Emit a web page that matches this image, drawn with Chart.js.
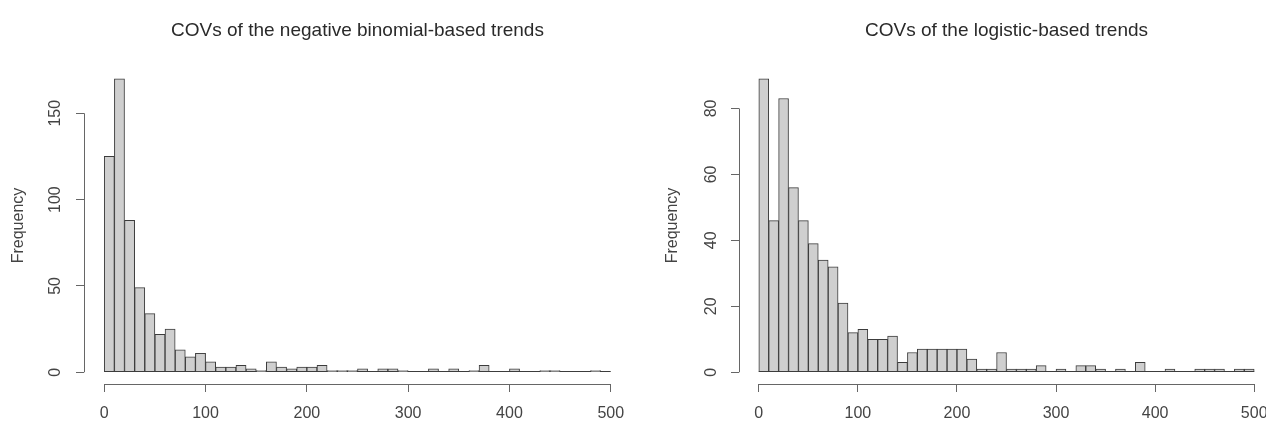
<!DOCTYPE html>
<html>
<head>
<meta charset="utf-8">
<script src="https://cdn.jsdelivr.net/npm/chart.js@4"></script>
<style>
  html, body { margin: 0; padding: 0; background: #fff; overflow: hidden; }
  .panel { position: absolute; top: 0; width: 640px; height: 423px; }
  #leftPanel { left: 0; }
  #rightPanel { left: 640px; }
</style>
</head>
<body>
<div class="panel" id="leftPanel"><canvas id="nbChart" width="640" height="423"></canvas></div>
<div class="panel" id="rightPanel"><canvas id="logChart" width="640" height="423"></canvas></div>
<script>
// histogram bins: width 10, from 0 to 500
const binWidth = 10;
const binStarts = [0, 10, 20, 30, 40, 50, 60, 70, 80, 90,
  100, 110, 120, 130, 140, 150, 160, 170, 180, 190,
  200, 210, 220, 230, 240, 250, 260, 270, 280, 290,
  300, 310, 320, 330, 340, 350, 360, 370, 380, 390,
  400, 410, 420, 430, 440, 450, 460, 470, 480, 490];

// counts
const nbCounts = [125, 170, 88, 49, 34, 22, 25, 13, 9, 11,
  6, 3, 3, 4, 2, 1, 6, 3, 2, 3,
  3, 4, 1, 1, 1, 2, 0, 2, 2, 1,
  0, 0, 2, 0, 2, 0, 1, 4, 0, 0,
  2, 0, 0, 1, 1, 0, 0, 0, 1, 0];
const logCounts = [89, 46, 83, 56, 46, 39, 34, 32, 21, 12,
  13, 10, 10, 11, 3, 6, 7, 7, 7, 7,
  7, 4, 1, 1, 6, 1, 1, 1, 2, 0,
  1, 0, 2, 2, 1, 0, 1, 0, 3, 0,
  0, 1, 0, 0, 1, 1, 1, 0, 1, 1];

const xTicks = [0, 100, 200, 300, 400, 500];
const nbYTicks = [0, 50, 100, 150];
const logYTicks = [0, 20, 40, 60, 80];

const nbTitle = 'COVs of the negative binomial-based trends';
const logTitle = 'COVs of the logistic-based trends';
const yLabel = 'Frequency';

Chart.defaults.font.family = "'Liberation Sans', Arial, sans-serif";
Chart.defaults.color = '#444';

// R-style axes: lines only from first to last tick, plus zero line under the bars
const rAxes = {
  id: 'rAxes',
  beforeDatasetsDraw(chart) {
    const { ctx, scales: { x, y } } = chart;
    const y0 = Math.round(y.getPixelForValue(0)) - 0.5;
    ctx.save();
    ctx.strokeStyle = '#3c3c3c';
    ctx.lineWidth = 1;
    ctx.beginPath();
    ctx.moveTo(x.getPixelForValue(binStarts[0]), y0);
    ctx.lineTo(x.getPixelForValue(binStarts[binStarts.length - 1] + binWidth), y0);
    ctx.stroke();
    ctx.restore();
  },
  afterDraw(chart) {
    const { ctx, chartArea, scales: { x, y } } = chart;
    const xt = x.ticks, yt = y.ticks;
    ctx.save();
    ctx.strokeStyle = '#666';
    ctx.lineWidth = 1;
    const yb = Math.round(chartArea.bottom) + 0.5;
    ctx.beginPath();
    ctx.moveTo(x.getPixelForValue(xt[0].value), yb);
    ctx.lineTo(x.getPixelForValue(xt[xt.length - 1].value), yb);
    const xl = Math.round(chartArea.left) + 0.5;
    ctx.moveTo(xl, y.getPixelForValue(yt[0].value));
    ctx.lineTo(xl, y.getPixelForValue(yt[yt.length - 1].value));
    ctx.stroke();
    ctx.restore();
  }
};

function makeHist(id, title, counts, yTicks, cfg) {
  return new Chart(document.getElementById(id), {
    type: 'bar',
    data: {
      datasets: [{
        data: counts.map((c, i) => ({ x: binStarts[i] + binWidth / 2, y: c })),
        backgroundColor: '#cfcfcf',
        borderColor: '#3c3c3c',
        borderWidth: 1,
        borderSkipped: false,
        barPercentage: 1,
        categoryPercentage: 1
      }]
    },
    options: {
      responsive: false,
      animation: false,
      devicePixelRatio: 1,
      layout: { padding: { left: 0, right: cfg.rightPad, top: 0, bottom: 0 } },
      plugins: {
        legend: { display: false },
        tooltip: { enabled: false },
        title: {
          display: true,
          text: title,
          fullSize: false,
          color: '#2a2a2a',
          font: { size: 19, weight: 'normal' },
          padding: { top: 19, bottom: 25.2 }
        }
      },
      scales: {
        x: {
          type: 'linear',
          min: -20,
          max: 520,
          offset: false,
          afterBuildTicks: (s) => { s.ticks = xTicks.map(v => ({ value: v })); },
          afterFit: (s) => { s.height = 39; },
          border: { display: false },
          grid: { offset: false, drawOnChartArea: false, drawTicks: true, tickLength: 8, color: '#666' },
          ticks: { padding: 12, font: { size: 16 }, maxRotation: 0, autoSkip: false }
        },
        y: {
          type: 'linear',
          min: cfg.yMin,
          max: cfg.yMax,
          afterBuildTicks: (s) => { s.ticks = yTicks.map(v => ({ value: v })); },
          afterFit: (s) => { s.width = cfg.yWidth; },
          border: { display: false },
          grid: { drawOnChartArea: false, drawTicks: true, tickLength: 8, color: '#666' },
          ticks: {
            font: { size: 16 },
            minRotation: 90,
            maxRotation: 90,
            crossAlign: 'center',
            padding: cfg.yTickPad,
            autoSkip: false
          },
          title: {
            display: true,
            text: yLabel,
            color: '#444',
            font: { size: 16 },
            padding: { top: cfg.yTitlePad, bottom: 0 }
          }
        }
      }
    },
    plugins: [rAxes]
  });
}

makeHist('nbChart', nbTitle, nbCounts, nbYTicks,
  { rightPad: 9, yMin: -6.8, yMax: 176.8, yWidth: 84, yTickPad: 7, yTitlePad: 9 });
makeHist('logChart', logTitle, logCounts, logYTicks,
  { rightPad: 6, yMin: -3.56, yMax: 92.56, yWidth: 99, yTickPad: 11, yTitlePad: 23 });
</script>
</body>
</html>
